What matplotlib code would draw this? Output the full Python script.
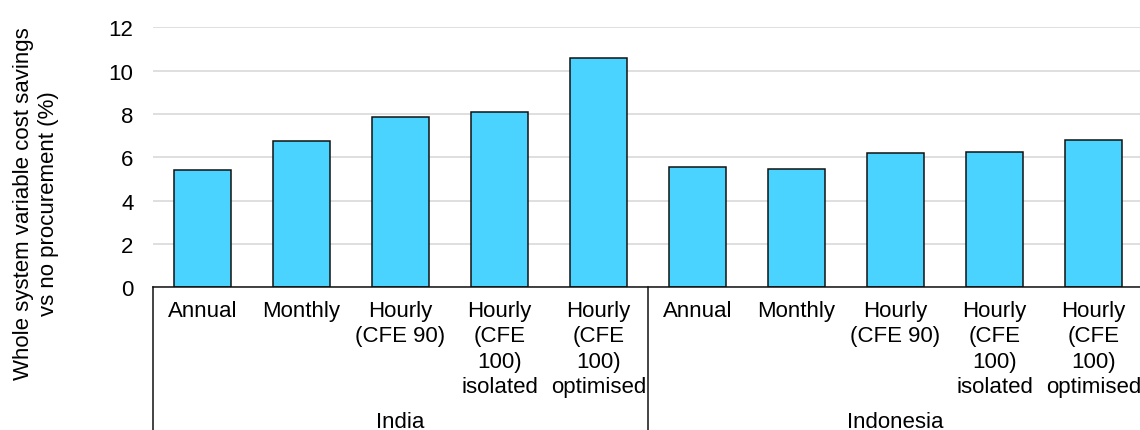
import matplotlib
matplotlib.use("Agg")
import matplotlib.pyplot as plt
from matplotlib import transforms
from matplotlib.lines import Line2D

plt.rcParams['font.family'] = ['Liberation Sans', 'DejaVu Sans']

# Savings by procurement approach, per country
countries = ["India", "Indonesia"]
approaches = ["Annual", "Monthly", "Hourly\n(CFE 90)",
              "Hourly\n(CFE\n100)\nisolated", "Hourly\n(CFE\n100)\noptimised"]
india_savings = [5.41, 6.73, 7.87, 8.07, 10.58]
indonesia_savings = [5.53, 5.44, 6.22, 6.25, 6.78]
y_ticks = [0, 2, 4, 6, 8, 10, 12]
y_label = "Whole system variable cost savings\nvs no procurement (%)"

values = india_savings + indonesia_savings
labels = approaches * len(countries)
x = list(range(len(values)))

FS = 16
BAR_COLOR = "#4BD3FF"

fig = plt.figure(figsize=(11.4, 4.31), dpi=100)
W, H = 1140, 431
left_px, right_px, top_px, zero_px = 153, 1143, 28.3, 288.3
ax = fig.add_axes([left_px / W, (H - zero_px) / H,
                   (right_px - left_px) / W, (zero_px - top_px) / H])

ax.bar(x, values, width=0.575, color=BAR_COLOR, edgecolor="#111111",
       linewidth=1.1, zorder=3)

ax.set_xlim(-0.5, len(values) - 0.5)
ax.set_ylim(0, 12)
ax.set_yticks(y_ticks)
ax.set_yticklabels([str(t) for t in y_ticks], fontsize=FS)
ax.tick_params(axis="y", length=0, pad=14)
ax.set_xticks([])
ax.yaxis.grid(True, color="#d9d9d9", linewidth=1.2, zorder=0)
ax.set_axisbelow(True)
for side in ("top", "right", "left"):
    ax.spines[side].set_visible(False)
ax.spines["bottom"].set_color("#111111")
ax.spines["bottom"].set_linewidth(1.1)
ax.spines["bottom"].set_zorder(4)

# Two-level category axis below the plot
trans = transforms.blended_transform_factory(ax.transData, fig.transFigure)
y_axis_fig = (H - zero_px) / H
n = len(approaches)
for g in range(len(countries) + 1):
    xb = -0.5 + g * n
    fig.add_artist(Line2D([xb, xb], [0, y_axis_fig], transform=trans,
                          color="#111111", linewidth=1.1))

# Each label line is placed on its own baseline for even spacing
first_baseline_px, line_step_px = 317, 25.5
for xi, lab in zip(x, labels):
    for i, line in enumerate(lab.split("\n")):
        fig.text(xi, (H - first_baseline_px - i * line_step_px) / H, line,
                 transform=trans, ha="center", va="baseline", fontsize=FS)

for g, name in enumerate(countries):
    xc = -0.5 + g * n + n / 2
    fig.text(xc, (H - 428) / H, name, transform=trans, ha="center",
             va="baseline", fontsize=FS)

fig.text(36 / W, (H - 204) / H, y_label, rotation=90, ha="center",
         va="center", fontsize=FS, multialignment="center", linespacing=1.25)

fig.savefig("out.png", dpi=100)
